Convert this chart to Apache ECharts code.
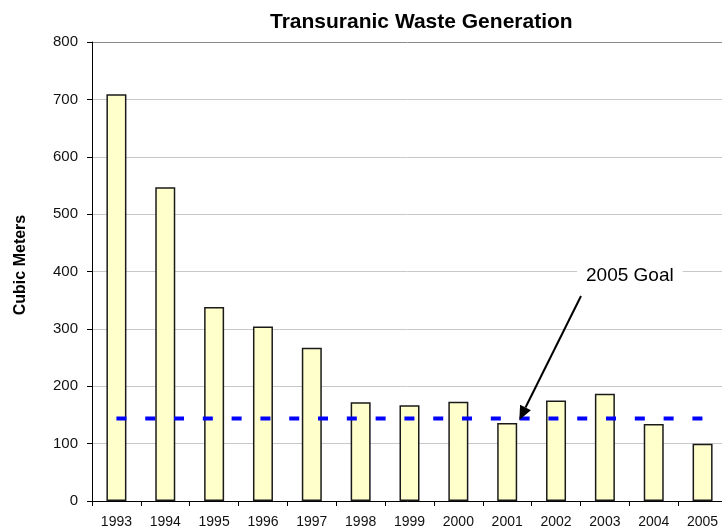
<!DOCTYPE html>
<html>
<head>
<meta charset="utf-8">
<script src="https://cdn.jsdelivr.net/npm/echarts@6/dist/echarts.min.js"></script>
<style>
  html, body { margin: 0; padding: 0; background: #fff; }
  #chart { width: 722px; height: 529px; }
</style>
</head>
<body>
<div id="chart"></div>
<script>
; (function () {
    // years on the x axis
    const years = ['1993', '1994', '1995', '1996', '1997', '1998', '1999',
        '2000', '2001', '2002', '2003', '2004', '2005'];
    // waste generated, cubic meters
    const waste = [709, 547, 338, 304, 267, 172, 167, 173, 136, 175, 187, 134, 100];
    // 2005 goal, drawn across every year
    const goal = [144, 144, 144, 144, 144, 144, 144, 144, 144, 144, 144, 144, 144];
    const yTicks = { min: 0, max: 800, step: 100 };

    const font = '"Liberation Sans", Arial, sans-serif';
    const chart = echarts.init(document.getElementById('chart'));

    const option = {
        animation: false,
        backgroundColor: '#fff',
        title: {
            text: 'Transuranic Waste Generation',
            left: 265,
            top: 7,
            textStyle: { fontFamily: font, fontSize: 21, fontWeight: 'bold', color: '#000' }
        },
        grid: {
            left: 92, right: -5, top: 42, bottom: 28,
            containLabel: false,
            outerBoundsMode: 'none'
        },
        xAxis: {
            type: 'category',
            data: years,
            axisLine: { lineStyle: { color: '#000', width: 1 } },
            axisTick: { show: true, length: 5, interval: 0, lineStyle: { color: '#000' } },
            axisLabel: { interval: 0, margin: 14, fontFamily: font, fontSize: 14, color: '#111' }
        },
        yAxis: {
            type: 'value',
            min: yTicks.min,
            max: yTicks.max,
            interval: yTicks.step,
            name: 'Cubic Meters',
            nameLocation: 'middle',
            nameRotate: 90,
            nameGap: 63,
            nameTextStyle: { fontFamily: font, fontSize: 16, fontWeight: 'bold', color: '#000', padding: [0, 0, 0, 13] },
            axisLine: { show: true, lineStyle: { color: '#000', width: 1 } },
            axisTick: { show: true, length: 5, lineStyle: { color: '#000' } },
            axisLabel: { margin: 14, fontFamily: font, fontSize: 15, color: '#111' },
            splitLine: {
                show: true,
                lineStyle: {
                    color: ['#c8c8c8', '#c8c8c8', '#c8c8c8', '#c8c8c8', '#c8c8c8',
                        '#c8c8c8', '#c8c8c8', '#c8c8c8', '#8a8a8a'],
                    width: 1
                }
            }
        },
        series: [
            {
                name: 'Waste',
                type: 'bar',
                data: waste,
                barWidth: 20,
                itemStyle: { color: '#FFFFCC', borderColor: '#1a1a1a', borderWidth: 1.5 }
            },
            {
                name: '2005 Goal',
                type: 'line',
                data: goal,
                symbol: 'none',
                z: 5,
                lineStyle: { color: '#0000FF', width: 4, type: [10, 18.8], cap: 'butt' }
            }
        ],
        graphic: [
            {
                type: 'text',
                left: 577,
                top: 264,
                style: {
                    text: '2005 Goal',
                    font: '19px ' + font,
                    fill: '#000',
                    backgroundColor: '#fff',
                    padding: [2, 9, 2, 9]
                },
                z: 10
            },
            {
                type: 'line',
                shape: { x1: 581, y1: 296, x2: 525.5, y2: 407.5 },
                style: { stroke: '#000', lineWidth: 2 },
                z: 10
            },
            {
                type: 'polygon',
                shape: { points: [[519.3, 420], [530.9, 410.2], [520.1, 404.8]] },
                style: { fill: '#000' },
                z: 10
            }
        ]
    };

    chart.setOption(option);
})()
</script>
</body>
</html>
